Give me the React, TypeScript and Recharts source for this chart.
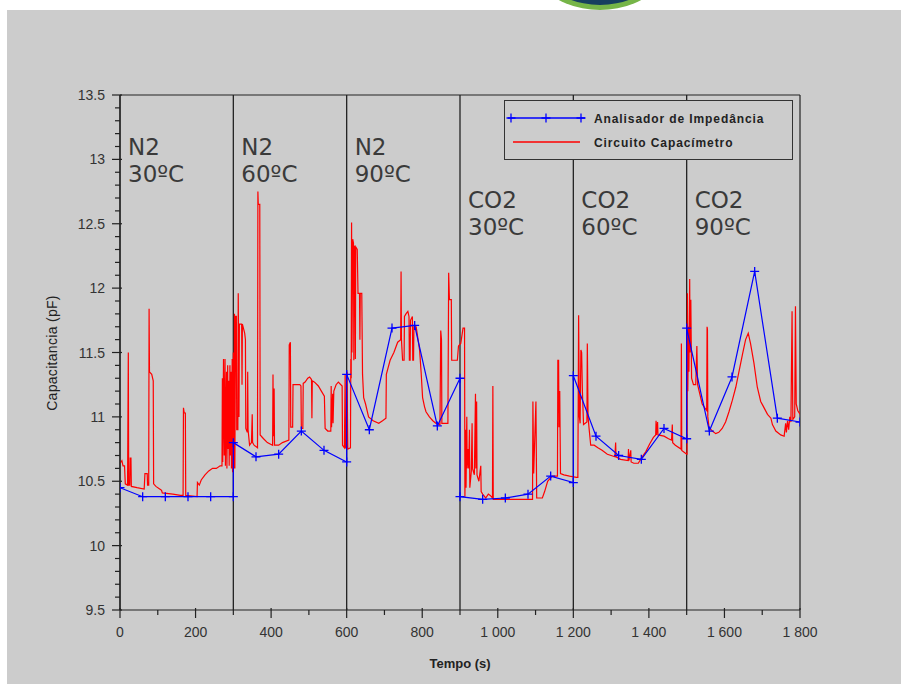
import { LineChart, Line, XAxis, YAxis, ReferenceLine, Legend } from "recharts";

// Analisador de Impedância: one reading every 60 s, two readings at each phase change
const blueTime = [
  0, 60, 120, 180, 240, 300,
  300, 360, 420, 480, 540, 600,
  600, 660, 720, 780, 840, 900,
  900, 960, 1020, 1080, 1140, 1200,
  1200, 1260, 1320, 1380, 1440, 1500,
  1500, 1560, 1620, 1680, 1740, 1800,
];
const blueCap = [
  10.45, 10.38, 10.38, 10.38, 10.38, 10.38,
  10.8, 10.69, 10.71, 10.89, 10.74, 10.65,
  11.33, 10.9, 11.69, 11.71, 10.93, 11.3,
  10.38, 10.36, 10.37, 10.4, 10.54, 10.49,
  11.32, 10.85, 10.7, 10.67, 10.91, 10.83,
  11.69, 10.89, 11.31, 12.13, 10.99, 10.96,
];

// Circuito Capacímetro, [tempo, capacitancia] per phase
const redN2at30: [number, number][] = [
  [0, 10.64], [5, 10.66], [8, 10.62], [12, 10.62], [14, 10.48], [20, 10.47], [22, 11.5], [23, 10.47],
  [26, 10.47], [27, 10.68], [29, 10.68], [30, 10.46], [45, 10.45], [64, 10.44], [66, 10.56], [72, 10.56],
  [73, 10.47], [76, 10.47], [77, 11.84], [78, 11.35], [84, 11.33], [88, 11.28], [89, 10.48], [95, 10.46],
  [105, 10.44], [110, 10.43], [112, 10.41], [140, 10.4], [160, 10.39], [167, 10.39], [168, 11.07], [170, 11.03],
  [173, 11.03], [174, 10.39], [204, 10.38], [205, 10.49], [210, 10.47], [215, 10.51], [225, 10.55], [235, 10.58],
  [245, 10.6], [255, 10.6], [265, 10.62], [270, 10.62], [271, 11.3], [272, 10.65], [274, 11.45], [276, 10.7],
  [278, 11.45], [279, 10.62], [282, 11.35], [283, 10.6], [285, 11.4], [286, 10.75], [288, 11.28], [289, 10.62],
  [291, 11.4], [292, 10.7], [294, 11.35], [295, 10.6], [297, 11.45], [298, 10.57], [300, 11.5], [301, 10.6],
  [303, 11.8], [304, 10.6],
];
const redN2at60: [number, number][] = [
  [306, 11.78], [308, 11.78], [309, 10.9], [312, 10.9], [313, 11.96], [315, 11.0], [316, 11.72], [322, 11.72],
  [323, 11.25], [324, 11.72], [330, 11.65], [332, 11.6], [333, 10.91], [337, 10.88], [338, 11.35], [339, 10.9],
  [343, 10.78], [348, 10.8], [350, 11.02], [351, 10.8], [355, 10.78], [364, 10.76], [365, 12.75], [366, 12.65],
  [370, 12.65], [371, 10.86], [380, 10.83], [390, 10.8], [404, 10.78], [405, 11.33], [406, 10.85], [408, 11.22],
  [409, 10.78], [420, 10.78], [430, 10.8], [447, 10.82], [448, 11.56], [451, 11.58], [452, 10.92], [457, 10.92],
  [458, 11.25], [476, 11.25], [479, 11.24], [480, 10.91], [484, 10.91], [485, 11.26], [490, 11.27], [497, 11.3],
  [502, 11.31], [507, 11.29], [508, 10.99], [509, 11.28], [515, 11.27], [525, 11.24], [533, 11.2], [541, 11.16],
  [543, 10.91], [550, 10.89], [558, 10.89], [559, 11.24], [560, 10.92], [563, 11.18], [564, 10.95], [566, 11.2],
  [572, 11.25], [578, 11.27], [588, 11.24], [589, 10.78], [594, 10.76], [596, 11.33], [597, 10.76], [600, 10.76],
];
const redN2at90: [number, number][] = [
  [601, 11.35], [603, 10.75], [610, 10.76], [611, 11.45], [612, 11.3], [613, 12.51], [614, 11.5], [616, 12.38],
  [618, 12.35], [619, 11.44], [620, 12.33], [622, 12.3], [623, 11.45], [624, 12.32], [628, 12.3], [630, 11.96],
  [634, 11.96], [635, 11.6], [636, 11.96], [640, 11.96], [642, 11.33], [645, 11.15], [650, 11.1], [658, 11.0],
  [670, 10.97], [685, 10.95], [695, 10.97], [704, 10.99], [705, 11.33], [715, 11.44], [725, 11.5], [735, 11.58],
  [743, 11.6], [744, 12.13], [745, 11.6], [748, 11.44], [752, 11.44], [753, 11.78], [757, 11.8], [762, 11.82],
  [765, 11.78], [766, 11.44], [768, 11.44], [769, 11.75], [774, 11.78], [775, 11.44], [777, 11.44], [778, 11.7],
  [784, 11.7], [788, 11.62], [793, 11.52], [797, 11.35], [801, 11.15], [806, 11.08], [810, 11.04], [819, 11.0],
  [828, 10.97], [836, 10.95], [847, 10.94], [849, 11.67], [851, 11.6], [852, 10.95], [868, 10.95], [870, 12.12],
  [872, 11.91], [877, 11.91], [878, 11.44], [893, 11.44], [896, 11.55], [902, 11.57], [908, 11.69], [912, 11.69],
];
const redCO2at30: [number, number][] = [
  [913, 10.38], [915, 10.9], [916, 10.45], [918, 11.0], [919, 10.6], [921, 10.75], [923, 10.6], [925, 10.9],
  [926, 10.45], [930, 10.58], [932, 10.95], [933, 10.6], [938, 10.55], [941, 11.18], [942, 10.6], [944, 11.12],
  [945, 10.55], [950, 10.5], [955, 10.62], [956, 10.42], [960, 10.4], [968, 10.37], [975, 10.4], [980, 10.39],
  [986, 10.37], [987, 11.24], [988, 10.36], [1050, 10.36], [1092, 10.36], [1093, 11.12], [1095, 10.56],
  [1101, 11.12], [1103, 10.37], [1118, 10.37], [1124, 10.42], [1132, 10.5], [1138, 10.52], [1145, 10.54],
  [1158, 10.54], [1159, 11.44], [1161, 11.44], [1162, 10.92], [1164, 11.2], [1166, 10.56], [1175, 10.55],
  [1190, 10.54], [1208, 10.53],
];
const redCO2at60: [number, number][] = [
  [1212, 10.53], [1214, 11.79], [1216, 11.0], [1218, 10.95], [1220, 11.52], [1222, 11.5], [1224, 11.2],
  [1227, 10.94], [1236, 10.96], [1237, 11.57], [1239, 11.0], [1242, 10.9], [1246, 10.78], [1255, 10.78],
  [1265, 10.76], [1276, 10.74], [1290, 10.71], [1300, 10.7], [1310, 10.69], [1312, 10.8], [1313, 10.69],
  [1325, 10.67], [1345, 10.66], [1346, 10.75], [1347, 10.66], [1352, 10.74], [1353, 10.65], [1360, 10.64],
  [1372, 10.64], [1380, 10.68], [1392, 10.73], [1402, 10.79], [1412, 10.84], [1418, 10.86], [1419, 10.97],
  [1420, 10.86], [1423, 10.96], [1424, 10.86], [1440, 10.85], [1452, 10.83], [1460, 10.82], [1462, 10.94],
  [1463, 10.8], [1470, 10.78], [1485, 10.75], [1486, 11.57], [1487, 10.74], [1500, 10.71],
];
const redCO2at90: [number, number][] = [
  [1501, 10.71], [1502, 11.96], [1503, 11.2], [1505, 11.7], [1506, 11.35], [1508, 12.07], [1509, 11.5],
  [1511, 11.91], [1513, 11.3], [1518, 11.25], [1524, 11.25], [1527, 11.55], [1529, 11.25], [1533, 11.2],
  [1541, 11.1], [1548, 11.07], [1553, 11.05], [1554, 11.7], [1555, 11.68], [1556, 11.0], [1559, 10.92],
  [1568, 10.89], [1577, 10.87], [1585, 10.88], [1594, 10.91], [1603, 10.96], [1612, 11.04], [1621, 11.13],
  [1630, 11.23], [1639, 11.36], [1648, 11.49], [1656, 11.6], [1663, 11.65], [1669, 11.57], [1678, 11.42],
  [1687, 11.23], [1696, 11.12], [1705, 11.07], [1714, 11.02], [1723, 10.99], [1727, 10.94], [1736, 10.89],
  [1749, 10.86], [1758, 10.85], [1762, 10.95], [1764, 10.88], [1767, 10.97], [1770, 10.9], [1773, 11.0],
  [1776, 10.96], [1779, 11.82], [1781, 10.98], [1786, 11.0], [1788, 11.86], [1790, 11.1], [1794, 11.05],
  [1800, 11.02],
];

const phaseStart = [0, 300, 600, 900, 1200, 1500];
const phaseGas = ["N2", "N2", "N2", "CO2", "CO2", "CO2"];
const phaseTemp = ["30ºC", "60ºC", "90ºC", "30ºC", "60ºC", "90ºC"];

const xTickValues = [0, 200, 400, 600, 800, 1000, 1200, 1400, 1600, 1800];
const xTickLabels = ["0", "200", "400", "600", "800", "1 000", "1 200", "1 400", "1 600", "1 800"];
const yTickValues = [9.5, 10, 10.5, 11, 11.5, 12, 12.5, 13, 13.5];
const yTickLabels = ["9.5", "10", "10.5", "11", "11.5", "12", "12.5", "13", "13.5"];

const blueData = blueTime.map((t, i) => ({ t, v: blueCap[i] }));
const redData = [redN2at30, redN2at60, redN2at90, redCO2at30, redCO2at60, redCO2at90]
  .flat()
  .map(([t, v]) => ({ t, v }));

const xAllTicks = Array.from({ length: 19 }, (_, i) => i * 100);
const yAllTicks = Array.from({ length: 41 }, (_, i) => Math.round((9.5 + i * 0.1) * 10) / 10);

const INK = "#222";
const TICK_FONT = "'Liberation Sans', Arial, sans-serif";

function YTick(props: any) {
  const { x, y, payload } = props;
  const idx = yTickValues.findIndex((v) => Math.abs(v - payload.value) < 1e-6);
  const major = idx >= 0;
  return (
    <g>
      <line x1={major ? x - 8 : x - 5} x2={major ? x + 2 : x} y1={y} y2={y} stroke={INK} strokeWidth={1.2} />
      {major && (
        <text x={x - 15} y={y + 5} textAnchor="end" fontSize={14} fill="#333" fontFamily={TICK_FONT}>
          {yTickLabels[idx]}
        </text>
      )}
    </g>
  );
}

function XTick(props: any) {
  const { x, y, payload } = props;
  const idx = xTickValues.indexOf(payload.value);
  const major = idx >= 0;
  return (
    <g>
      <line x1={x} x2={x} y1={major ? y - 2 : y} y2={major ? y + 8 : y + 5} stroke={INK} strokeWidth={1.2} />
      {major && (
        <text x={x} y={y + 27} textAnchor="middle" fontSize={14} fill="#333" fontFamily={TICK_FONT}>
          {xTickLabels[idx]}
        </text>
      )}
    </g>
  );
}

function PlusDot(props: any) {
  const { cx, cy } = props;
  if (cx == null || cy == null) return null;
  const r = 4.5;
  return (
    <path
      d={`M${cx - r},${cy}H${cx + r}M${cx},${cy - r}V${cy + r}`}
      stroke="#0000ff"
      strokeWidth={1.3}
      fill="none"
    />
  );
}

function PhaseLabel(props: any) {
  const { viewBox, gas, temp } = props;
  if (!viewBox) return null;
  const x = viewBox.x + 8;
  const top = viewBox.y + (gas === "N2" ? 60 : 113);
  return (
    <text fontSize={23} fill="#3a3a3a" fontFamily="'DejaVu Sans', sans-serif">
      <tspan x={x} y={top}>{gas}</tspan>
      <tspan x={x} y={top + 27}>{temp}</tspan>
    </text>
  );
}

function ChartLegend() {
  return (
    <div
      style={{
        width: 289,
        height: 60,
        boxSizing: "border-box",
        border: "1.5px solid #333",
        background: "#cccccc",
      }}
    >
      <svg width={286} height={57} style={{ display: "block" }}>
        <line x1={3} x2={80} y1={17} y2={17} stroke="#0000ff" strokeWidth={1.3} />
        <PlusDot cx={6} cy={17} />
        <PlusDot cx={41} cy={17} />
        <PlusDot cx={76} cy={17} />
        <line x1={8} x2={75} y1={41} y2={41} stroke="#ff0000" strokeWidth={1.3} />
        <text x={89} y={22} fontSize={12} fontWeight="bold" letterSpacing={0.9} fill={INK} fontFamily={TICK_FONT}>
          Analisador de Impedância
        </text>
        <text x={89} y={46} fontSize={12} fontWeight="bold" letterSpacing={0.9} fill={INK} fontFamily={TICK_FONT}>
          Circuito Capacímetro
        </text>
      </svg>
    </div>
  );
}

export default function App() {
  return (
    <div style={{ position: "fixed", left: 0, top: 0, width: 901, height: 688, background: "#fff", overflow: "hidden" }}>
      <div style={{ position: "absolute", left: 7, top: 10, right: 0, bottom: 4, background: "#cccccc" }} />
      <svg width={901} height={20} style={{ position: "absolute", left: 0, top: 0 }}>
        <circle cx={600} cy={-80} r={90} fill="#76b548" />
        <circle cx={600} cy={-80} r={85} fill="#17405f" />
      </svg>
      <div style={{ position: "absolute", left: 0, top: 0 }}>
        <LineChart width={901} height={688} margin={{ top: 95, right: 101, bottom: 0, left: 0 }}>
          <XAxis
            type="number"
            dataKey="t"
            domain={[0, 1800]}
            ticks={xAllTicks}
            interval={0}
            tick={<XTick />}
            tickLine={false}
            tickSize={0}
            tickMargin={0}
            height={78}
            axisLine={{ stroke: INK, strokeWidth: 1.2 }}
            allowDataOverflow
            label={{
              content: () => (
                <text x={460} y={668} textAnchor="middle" fontSize={13} fill={INK} fontFamily={TICK_FONT} fontWeight="bold">
                  Tempo (s)
                </text>
              ),
            }}
          />
          <YAxis
            type="number"
            domain={[9.5, 13.5]}
            ticks={yAllTicks}
            interval={0}
            tick={<YTick />}
            tickLine={false}
            tickSize={0}
            tickMargin={0}
            width={120}
            axisLine={{ stroke: INK, strokeWidth: 1.2 }}
            allowDataOverflow
            label={{
              content: () => (
                <text
                  x={57}
                  y={353}
                  transform="rotate(-90 57 353)"
                  textAnchor="middle"
                  fontSize={14}
                  fill={INK}
                  fontFamily={TICK_FONT}
                  letterSpacing={0.3}
                >
                  Capacitancia (pF)
                </text>
              ),
            }}
          />
          <ReferenceLine y={13.5} stroke={INK} strokeWidth={1.2} />
          <ReferenceLine x={1800} stroke={INK} strokeWidth={1.2} />
          {phaseStart.map((t, i) => (
            <ReferenceLine
              key={t}
              x={t}
              stroke={INK}
              strokeWidth={1.3}
              label={<PhaseLabel gas={phaseGas[i]} temp={phaseTemp[i]} />}
            />
          ))}
          <Line
            data={redData}
            dataKey="v"
            name="Circuito Capacímetro"
            type="linear"
            stroke="#ff0000"
            strokeWidth={1.2}
            dot={false}
            isAnimationActive={false}
          />
          <Line
            data={blueData}
            dataKey="v"
            name="Analisador de Impedância"
            type="linear"
            stroke="#0000ff"
            strokeWidth={1.2}
            dot={(p: any) => <PlusDot key={`d${p.index}`} {...p} />}
            isAnimationActive={false}
          />
          <Legend
            verticalAlign="middle"
            align="center"
            content={() => <ChartLegend />}
            wrapperStyle={{ left: 504, top: 100, width: 289, height: 60 }}
          />
        </LineChart>
      </div>
    </div>
  );
}
